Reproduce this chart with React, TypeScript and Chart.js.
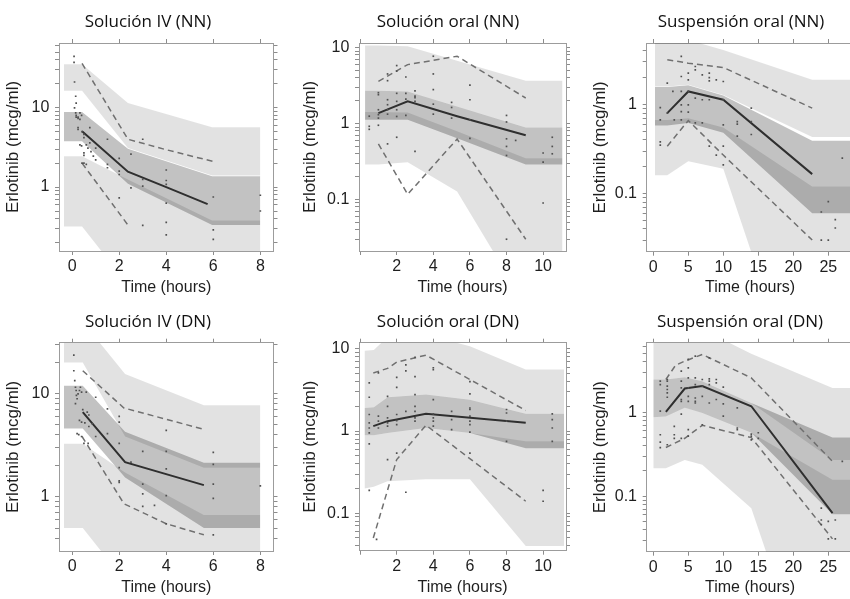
import React, { useEffect, useRef } from "react";
import { Chart, registerables } from "chart.js";
Chart.register(...registerables);

// ---------- Panel titles ----------
const panelTitles = [
  "Solución IV (NN)",
  "Solución oral (NN)",
  "Suspensión oral (NN)",
  "Solución IV (DN)",
  "Solución oral (DN)",
  "Suspensión oral (DN)",
];
const xTitle = "Time (hours)";
const yTitle = "Erlotinib (mcg/ml)";

// ---------- x tick values and labels ----------
const ivTicks = [0, 2, 4, 6, 8];
const ivTickLabels = ["0", "2", "4", "6", "8"];
const solTicks = [0, 2, 4, 6, 8, 10];
const solTickLabels = ["", "2", "4", "6", "8", "10"];
const susTicks = [0, 5, 10, 15, 20, 25];
const susTickLabels = ["0", "5", "10", "15", "20", "25"];

// ---------- Panel 1: Solución IV (NN) ----------
const p1BandX = [-0.35, 0.42, 2.37, 5.95, 8.0];
const p1UpHi = [35, 35, 11.4, 5.66, 5.66];
const p1UpLo = [16.3, 16.3, 3.1, 1.4, 1.4];
const p1MedHi = [8.8, 8.8, 3.03, 1.37, 1.37];
const p1MedLo = [3.78, 3.78, 1.1, 0.333, 0.333];
const p1LoHi = [2.45, 2.45, 1.25, 0.38, 0.38];
const p1LoLo = [0.32, 0.32, 0.059, 0.02, 0.02];
const p1MedX = [0.42, 2.37, 4.0, 5.76];
const p1P50 = [5.05, 1.56, 1.0, 0.61];
const p1HiX = [0.42, 2.37, 4.0, 6.0];
const p1P95 = [36, 4.0, 2.95, 2.1];
const p1LoX = [0.42, 2.35];
const p1P05 = [2.0, 0.34];
const p1ObsT = [0.08, 0.1, 0.15, 0.17, 0.25, 0.33, 0.4, 0.42, 0.5, 0.6, 0.67, 0.75, 0.8, 0.9, 1, 1.5, 2, 2.5, 3, 4, 6, 8];
const p1ObsC = [
  [44, 37], [21, 9.9], [13.9, 8.6], [11.4, 8.0, 7.6], [7.6, 7.3, 5.6, 5.3], [8.6, 7.1, 3.4],
  [8.0, 3.3], [5.0, 2.0], [4.6, 4.2, 2.7, 2.5, 2.0], [3.4, 1.93], [3.1], [5.6, 3.6], [2.8], [2.45],
  [3.1, 2.2], [4.0, 1.93, 1.75], [2.3, 1.59, 1.44, 0.73], [2.6, 0.98], [4.0, 1.25, 1.03, 0.33],
  [1.64, 1.21, 1.08, 0.63, 0.36, 0.25], [0.75, 0.29, 0.22], [0.79, 0.5],
];

// ---------- Panel 2: Solución oral (NN) ----------
const p2BandX = [0.27, 1.0, 2.6, 5.3, 9.05, 11.06];
const p2UpHi = [10.7, 10.7, 10.4, 6.7, 3.67, 3.67];
const p2UpLo = [2.71, 2.71, 2.65, 1.68, 0.89, 0.89];
const p2MedHi = [2.71, 2.71, 2.65, 1.68, 0.89, 0.89];
const p2MedLo = [1.12, 1.12, 1.12, 0.64, 0.29, 0.29];
const p2LoHi = [1.42, 1.42, 1.4, 0.79, 0.35, 0.35];
const p2LoLo = [0.29, 0.29, 0.31, 0.128, 0.004, 0.004];
const p2MedX = [1.0, 2.6, 5.3, 9.05];
const p2P50 = [1.37, 1.96, 1.25, 0.7];
const p2HiX = [1.0, 2.6, 5.3, 9.05];
const p2P95 = [3.6, 5.97, 7.7, 2.17];
const p2LoX = [1.0, 2.6, 5.3, 9.05];
const p2P05 = [0.54, 0.117, 0.625, 0.03];
const p2ObsT = [0.5, 1, 1.5, 2, 2.5, 3, 4, 5, 6, 8, 8.5, 10, 10.5];
const p2ObsC = [
  [1.25, 0.92, 0.84], [2.55, 2.4, 1.52, 1.31, 1.18, 0.95], [4.5, 3.67, 2.06, 1.77, 1.52, 1.33, 0.54],
  [5.8, 4.9, 2.5, 1.96, 1.52, 1.24, 0.66], [4.1, 2.5, 2.1, 1.28], [2.7, 2.3, 2.2, 1.96, 0.43],
  [7.7, 4.5, 2.8, 1.8, 1.33], [1.9, 1.63, 1.18], [3.2, 2.06, 1.12, 0.64],
  [1.28, 1.05, 0.63, 0.5, 0.38, 0.03], [0.6], [0.41, 0.31, 0.09], [0.66, 0.5, 0.4],
];

// ---------- Panel 3: Suspensión oral (NN) ----------
const p3BandX = [0.24, 2.0, 5.0, 10.0, 22.7, 28.6];
const p3UpHi = [5.3, 5.3, 5.3, 4.1, 1.89, 1.89];
const p3UpLo = [1.59, 1.59, 1.66, 1.28, 0.43, 0.43];
const p3MedHi = [1.57, 1.57, 1.64, 1.26, 0.39, 0.39];
const p3MedLo = [0.58, 0.58, 0.62, 0.48, 0.06, 0.06];
const p3LoHi = [0.67, 0.67, 0.7, 0.55, 0.12, 0.12];
const p3LoLo = [0.16, 0.16, 0.23, 0.19, 0.0002, 0.0002];
const p3MedX = [2.0, 5.0, 10.0, 22.7];
const p3P50 = [0.8, 1.4, 1.13, 0.165];
const p3HiX = [2.0, 5.0, 10.0, 22.7];
const p3P95 = [3.18, 2.91, 2.6, 0.91];
const p3LoX = [2.0, 5.0, 10.0, 22.7];
const p3P05 = [0.34, 0.66, 0.27, 0.03];
const p3ObsT = [1, 2, 2.8, 3, 4, 5, 6, 7, 8, 9, 10, 12, 14, 24, 25, 26, 27];
const p3ObsC = [
  [0.92, 0.67, 0.38, 0.35], [1.74, 0.8], [1.4], [0.67], [3.46, 2.06, 1.4, 0.99, 0.83, 0.67],
  [2.25, 1.89, 1.4, 0.99, 0.82], [2.67, 2.45, 1.18, 0.62], [2.15, 1.13, 0.62],
  [2.25, 2.0, 1.84, 1.13, 0.34], [1.89, 0.27], [1.81, 1.13, 0.59, 0.34, 0.21], [0.64, 0.6, 0.44],
  [0.91, 0.64, 0.46], [0.062, 0.03], [0.081, 0.03], [0.051, 0.041], [0.25],
];

// ---------- Panel 4: Solución IV (DN) ----------
const p4BandX = [-0.35, 0.45, 2.25, 5.6, 8.0];
const p4UpHi = [49.5, 49.5, 15.4, 7.7, 7.7];
const p4UpLo = [19.9, 19.9, 3.84, 1.92, 1.92];
const p4MedHi = [11.9, 11.9, 4.28, 2.14, 2.14];
const p4MedLo = [4.6, 4.6, 1.54, 0.5, 0.5];
const p4LoHi = [3.27, 3.27, 1.72, 0.67, 0.67];
const p4LoLo = [0.5, 0.5, 0.153, 0.05, 0.05];
const p4MedX = [0.45, 2.25, 5.6];
const p4P50 = [6.6, 2.17, 1.3];
const p4HiX = [0.45, 2.2, 5.6];
const p4P95 = [16.6, 7.25, 4.5];
const p4LoX = [0.42, 2.2, 4.0, 5.6];
const p4P05 = [3.84, 0.86, 0.55, 0.43];
const p4ObsT = [0.07, 0.11, 0.14, 0.17, 0.18, 0.21, 0.25, 0.28, 0.31, 0.35, 0.4, 0.45, 0.5, 0.54, 0.6, 0.64, 0.68, 0.71, 0.85, 1, 1.5, 2, 2.5, 3, 3.5, 4, 6, 8];
const p4ObsC = [
  [23.5, 16.6], [13.3], [11.5, 8.0], [10.7], [9.6], [8.9, 4.1], [9.9], [4.0], [10.7, 5.5], [11.5],
  [10.3, 5.3, 3.84], [7.0], [3.3], [5.2], [10.3], [6.6], [3.3], [4.8, 6.2], [5.1], [9.2, 3.84],
  [7.1, 4.1], [6.0, 5.3, 3.3, 1.92, 1.43, 1.38], [2.17], [2.76, 1.33, 1.07, 0.81], [0.83],
  [4.4, 2.76, 1.87, 1.03, 0.55], [2.7, 2.06, 1.33, 0.97, 0.43], [1.28],
];

// ---------- Panel 5: Solución oral (DN) ----------
const p5BandX = [0.24, 0.75, 1.5, 3.6, 6.0, 9.05, 11.15];
const p5UpHi = [9.5, 9.7, 14, 14.8, 10.8, 5.6, 5.6];
const p5UpLo = [1.91, 1.95, 2.58, 2.78, 2.41, 1.62, 1.62];
const p5MedHi = [1.91, 1.95, 2.58, 2.78, 2.41, 1.62, 1.62];
const p5MedLo = [0.89, 0.89, 0.95, 1.09, 0.95, 0.62, 0.62];
const p5LoHi = [0.89, 0.89, 0.95, 1.09, 0.95, 0.75, 0.75];
const p5LoLo = [0.2, 0.21, 0.245, 0.26, 0.26, 0.04, 0.04];
const p5MedX = [0.72, 1.5, 2.0, 3.6, 9.05];
const p5P50 = [1.15, 1.32, 1.38, 1.62, 1.26];
const p5HiX = [0.72, 1.5, 2.0, 3.6, 9.05];
const p5P95 = [5.1, 5.8, 6.9, 8.4, 1.78];
const p5LoX = [0.72, 2.0, 3.6, 9.05];
const p5P05 = [0.05, 0.45, 1.18, 0.14];
const p5ObsT = [0.5, 0.9, 1, 1.5, 2, 2.5, 3, 4, 5, 6, 8, 10, 10.5];
const p5ObsC = [
  [3.86, 2.58, 1.59, 1.26, 1.09, 0.95, 0.7, 0.19], [0.048], [5.1, 1.52, 1.32, 1.09],
  [2.65, 2.0, 1.45, 1.26, 1.15, 0.45], [4.5, 3.4, 1.59, 1.34, 1.2, 0.54], [6.4, 5.4, 1.74, 0.18],
  [7.9, 4.6, 2.78, 2.0, 1.74, 1.45, 1.32], [5.9, 5.6, 2.41, 1.62, 1.45, 1.32, 1.15],
  [1.74, 1.38, 1.04], [4.0, 2.83, 1.91, 1.83, 1.52, 1.32, 1.2, 0.97, 0.54], [1.83, 1.66, 1.32, 0.75],
  [0.19, 0.14], [1.62, 1.38, 1.09, 0.75],
];

// ---------- Panel 6: Suspensión oral (DN) ----------
const p6BandX = [0.0, 1.8, 4.5, 7.0, 14.0, 25.6, 28.6];
const p6UpHi = [9.0, 9.0, 9.7, 9.7, 5.0, 1.95, 1.95];
const p6UpLo = [2.46, 2.46, 2.62, 2.35, 1.29, 0.27, 0.27];
const p6MedHi = [2.46, 2.46, 2.62, 2.35, 1.29, 0.5, 0.5];
const p6MedLo = [0.87, 0.89, 1.13, 0.98, 0.57, 0.061, 0.061];
const p6LoHi = [0.87, 0.89, 1.13, 0.98, 0.57, 0.157, 0.157];
const p6LoLo = [0.216, 0.216, 0.27, 0.237, 0.072, 0.0001, 0.0001];
const p6MedX = [1.8, 4.5, 7.0, 14.0, 25.6];
const p6P50 = [1.01, 1.92, 2.05, 1.18, 0.063];
const p6HiX = [1.8, 3.2, 4.5, 7.0, 14.0, 25.6];
const p6P95 = [2.46, 3.65, 4.07, 4.89, 2.57, 0.26];
const p6LoX = [1.8, 4.5, 7.0, 14.0, 25.6];
const p6P05 = [0.38, 0.49, 0.7, 0.5, 0.031];
const p6ObsT = [1, 2, 3, 4, 5, 6, 7, 8, 9, 10, 12, 14, 15, 24, 25, 26, 27];
const p6ObsC = [
  [2.35, 2.14, 1.03, 0.54, 0.44, 0.38], [2.46, 2.35, 2.05, 1.87, 1.7, 1.51, 0.41], [0.68, 0.54, 0.49],
  [3.09, 2.35, 1.95, 1.42, 1.35, 0.95, 0.49], [4.26, 3.39, 2.57, 1.95, 1.55, 1.35, 0.62, 0.52],
  [4.67, 2.57, 2.14, 1.48, 1.35, 1.29], [2.46, 2.05, 1.55, 0.71], [4.46, 2.5, 2.35, 2.14, 1.29],
  [2.46, 2.24, 1.42], [1.99, 1.26, 0.9], [1.13, 0.65, 0.62], [0.55, 0.52, 0.47], [0.57, 0.49],
  [0.072, 0.052, 0.046], [0.05, 0.031], [0.052, 0.031], [0.26],
];

// ---------- Axis ranges ----------
const xRanges = [[-0.56, 8.56], [-0.06, 11.25], [-0.94, 28.6], [-0.56, 8.56], [-0.06, 11.25], [-0.94, 28.6]];
const yRanges = [[0.157, 65], [0.021, 11.5], [0.0222, 4.9], [0.323, 31], [0.035, 11.9], [0.0218, 6.75]];

// ---------- Styling ----------
const LIGHT = "rgba(0,0,0,0.115)";
const MID = "rgba(0,0,0,0.24)";
const FRAME = "#9c9c9c";
const TICK = "#8c8c8c";
const SANS = "'Liberation Sans', Arial, sans-serif";

type PanelData = {
  title: string;
  xTicks: number[];
  xLabels: string[];
  bandX: number[];
  upHi: number[]; upLo: number[];
  medHi: number[]; medLo: number[];
  loHi: number[]; loLo: number[];
  medX: number[]; p50: number[];
  hiX: number[]; p95: number[];
  loX: number[]; p05: number[];
  obsT: number[]; obsC: number[][];
};

const panels: PanelData[] = [
  { title: panelTitles[0], xTicks: ivTicks, xLabels: ivTickLabels, bandX: p1BandX, upHi: p1UpHi, upLo: p1UpLo, medHi: p1MedHi, medLo: p1MedLo, loHi: p1LoHi, loLo: p1LoLo, medX: p1MedX, p50: p1P50, hiX: p1HiX, p95: p1P95, loX: p1LoX, p05: p1P05, obsT: p1ObsT, obsC: p1ObsC },
  { title: panelTitles[1], xTicks: solTicks, xLabels: solTickLabels, bandX: p2BandX, upHi: p2UpHi, upLo: p2UpLo, medHi: p2MedHi, medLo: p2MedLo, loHi: p2LoHi, loLo: p2LoLo, medX: p2MedX, p50: p2P50, hiX: p2HiX, p95: p2P95, loX: p2LoX, p05: p2P05, obsT: p2ObsT, obsC: p2ObsC },
  { title: panelTitles[2], xTicks: susTicks, xLabels: susTickLabels, bandX: p3BandX, upHi: p3UpHi, upLo: p3UpLo, medHi: p3MedHi, medLo: p3MedLo, loHi: p3LoHi, loLo: p3LoLo, medX: p3MedX, p50: p3P50, hiX: p3HiX, p95: p3P95, loX: p3LoX, p05: p3P05, obsT: p3ObsT, obsC: p3ObsC },
  { title: panelTitles[3], xTicks: ivTicks, xLabels: ivTickLabels, bandX: p4BandX, upHi: p4UpHi, upLo: p4UpLo, medHi: p4MedHi, medLo: p4MedLo, loHi: p4LoHi, loLo: p4LoLo, medX: p4MedX, p50: p4P50, hiX: p4HiX, p95: p4P95, loX: p4LoX, p05: p4P05, obsT: p4ObsT, obsC: p4ObsC },
  { title: panelTitles[4], xTicks: solTicks, xLabels: solTickLabels, bandX: p5BandX, upHi: p5UpHi, upLo: p5UpLo, medHi: p5MedHi, medLo: p5MedLo, loHi: p5LoHi, loLo: p5LoLo, medX: p5MedX, p50: p5P50, hiX: p5HiX, p95: p5P95, loX: p5LoX, p05: p5P05, obsT: p5ObsT, obsC: p5ObsC },
  { title: panelTitles[5], xTicks: susTicks, xLabels: susTickLabels, bandX: p6BandX, upHi: p6UpHi, upLo: p6UpLo, medHi: p6MedHi, medLo: p6MedLo, loHi: p6LoHi, loLo: p6LoLo, medX: p6MedX, p50: p6P50, hiX: p6HiX, p95: p6P95, loX: p6LoX, p05: p6P05, obsT: p6ObsT, obsC: p6ObsC },
];

// ---------- Layout (canvas placement) ----------
type Geom = { cx: number; cy: number; cw: number; yW: number; y2W: number; yTitlePad: number; tTop: number; tBottom: number; xH: number };
const geoms: Geom[] = [
  { cx: 0, cy: 0, cw: 296, yW: 59, y2W: 22.5, yTitlePad: 3.1, tTop: 11.5, tBottom: 5.1, xH: 49 },
  { cx: 290, cy: 0, cw: 316, yW: 69, y2W: 40, yTitlePad: 9.8, tTop: 11.5, tBottom: 5.1, xH: 49 },
  { cx: 575, cy: 0, cw: 332, yW: 71.7, y2W: 53.5, yTitlePad: 14.8, tTop: 11.5, tBottom: 5.1, xH: 48.3 },
  { cx: 0, cy: 300, cw: 296, yW: 59, y2W: 22.5, yTitlePad: 3.1, tTop: 12.3, tBottom: 4.0, xH: 49 },
  { cx: 290, cy: 300, cw: 316, yW: 69, y2W: 40, yTitlePad: 9.8, tTop: 12.3, tBottom: 4.0, xH: 49.3 },
  { cx: 575, cy: 300, cw: 330, yW: 71.7, y2W: 51.5, yTitlePad: 14.8, tTop: 12.3, tBottom: 4.0, xH: 48.3 },
];
const CH = 300;

function pts(xs: number[], ys: number[]) {
  return xs.map((x, i) => ({ x, y: ys[i] }));
}

function logTickValues(min: number, max: number) {
  const out: number[] = [];
  for (let e = -5; e <= 3; e++) {
    for (let m = 1; m <= 9; m++) {
      const v = m * Math.pow(10, e);
      if (v >= min && v <= max) out.push(v);
    }
  }
  return out;
}

function isDecade(v: number) {
  const l = Math.log10(v);
  return Math.abs(l - Math.round(l)) < 1e-6;
}

function makeConfig(p: PanelData, g: Geom, xr: number[], yr: number[]): any {
  const datasets: any[] = [];
  const band = (lo: number[], hi: number[], color: string) => {
    datasets.push({ data: pts(p.bandX, lo), borderColor: "transparent", borderWidth: 0, pointRadius: 0, fill: false, order: 5 });
    datasets.push({ data: pts(p.bandX, hi), borderColor: "transparent", borderWidth: 0, pointRadius: 0, fill: "-1", backgroundColor: color, order: 5 });
  };
  band(p.upLo, p.upHi, LIGHT);
  band(p.loLo, p.loHi, LIGHT);
  band(p.medLo, p.medHi, MID);
  datasets.push({ data: pts(p.hiX, p.p95), borderColor: "#707070", borderWidth: 1.5, borderDash: [6, 4], pointRadius: 0, fill: false, order: 2 });
  datasets.push({ data: pts(p.loX, p.p05), borderColor: "#707070", borderWidth: 1.5, borderDash: [6, 4], pointRadius: 0, fill: false, order: 2 });
  datasets.push({ data: pts(p.medX, p.p50), borderColor: "#2f2f2f", borderWidth: 2, pointRadius: 0, fill: false, order: 1 });
  const obs: { x: number; y: number }[] = [];
  p.obsT.forEach((t, i) => p.obsC[i].forEach((c) => obs.push({ x: t, y: c })));
  datasets.push({ data: obs, showLine: false, pointRadius: 1.2, pointStyle: "rect", pointBackgroundColor: "#505050", pointBorderWidth: 0, pointBorderColor: "transparent", order: 0 });

  const xTickBuild = (s: any) => { s.ticks = p.xTicks.map((v) => ({ value: v })); };
  const yVals = logTickValues(yr[0], yr[1]);
  const yTickBuild = (s: any) => { s.ticks = yVals.map((v) => ({ value: v })); };
  const gridOpts = { drawOnChartArea: false, drawTicks: true, tickLength: 4, tickColor: TICK, tickWidth: 1 };
  const borderOpts = { display: true, color: FRAME, width: 1 };

  return {
    type: "line",
    data: { datasets },
    options: {
      responsive: false,
      animation: false,
      devicePixelRatio: 1,
      layout: { padding: 0 },
      events: [],
      plugins: {
        legend: { display: false },
        tooltip: { enabled: false },
        title: {
          display: true,
          text: p.title,
          color: "#111",
          font: { family: "'Open Sans', 'Noto Sans', sans-serif", size: 17, weight: "normal" },
          padding: { top: g.tTop, bottom: g.tBottom },
        },
      },
      scales: {
        x: {
          type: "linear", position: "bottom", min: xr[0], max: xr[1],
          afterBuildTicks: xTickBuild,
          afterFit: (s: any) => { s.height = g.xH; },
          ticks: {
            autoSkip: false, maxRotation: 0, padding: 2.4, color: "#1e1e1e",
            font: { family: SANS, size: 16 },
            callback: (v: number) => { const i = p.xTicks.indexOf(v); return i >= 0 ? p.xLabels[i] : ""; },
          },
          grid: gridOpts, border: borderOpts,
          title: { display: true, text: xTitle, color: "#1e1e1e", font: { family: SANS, size: 16 }, padding: { top: 0, bottom: 2.4 } },
        },
        x2: {
          type: "linear", position: "top", min: xr[0], max: xr[1],
          afterBuildTicks: xTickBuild,
          afterFit: (s: any) => { s.height = 6; },
          ticks: { display: false },
          grid: gridOpts, border: borderOpts,
        },
        y: {
          type: "logarithmic", position: "left", min: yr[0], max: yr[1],
          afterBuildTicks: yTickBuild,
          afterFit: (s: any) => { s.width = g.yW; },
          ticks: {
            autoSkip: false, padding: 5.7, color: "#1e1e1e",
            font: { family: SANS, size: 16 },
            callback: (v: number) => (isDecade(v) ? (v >= 1 ? String(Math.round(v)) : String(v)) : ""),
          },
          grid: gridOpts, border: borderOpts,
          title: { display: true, text: yTitle, color: "#1e1e1e", font: { family: SANS, size: 17 }, padding: { top: g.yTitlePad, bottom: 0 } },
        },
        y2: {
          type: "logarithmic", position: "right", min: yr[0], max: yr[1],
          afterBuildTicks: yTickBuild,
          afterFit: (s: any) => { s.width = g.y2W; },
          ticks: { display: false },
          grid: gridOpts, border: borderOpts,
        },
      },
    },
  };
}

function PanelChart({ idx }: { idx: number }) {
  const ref = useRef<HTMLCanvasElement>(null);
  const g = geoms[idx];
  useEffect(() => {
    if (!ref.current) return;
    const chart = new Chart(ref.current, makeConfig(panels[idx], g, xRanges[idx], yRanges[idx]));
    return () => chart.destroy();
  }, [idx]);
  return (
    <canvas
      ref={ref}
      width={g.cw}
      height={CH}
      style={{ position: "absolute", left: g.cx, top: g.cy, width: g.cw, height: CH }}
    />
  );
}

export default function App() {
  return (
    <div style={{ position: "absolute", left: 0, top: 0, width: 850, height: 599, overflow: "hidden", background: "#fff" }}>
      {panels.map((_, i) => (
        <PanelChart key={i} idx={i} />
      ))}
    </div>
  );
}
